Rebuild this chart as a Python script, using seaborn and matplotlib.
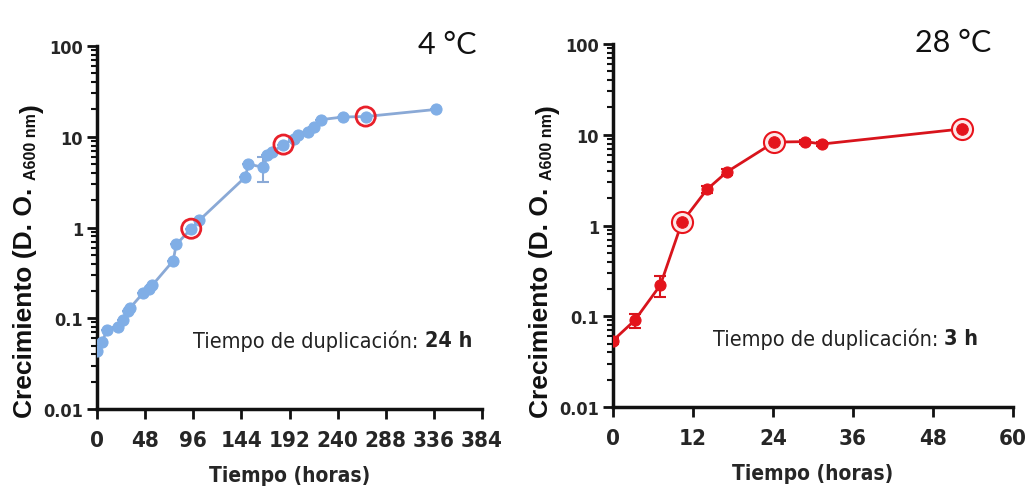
import numpy as np
import pandas as pd
import matplotlib
matplotlib.use("Agg")
import matplotlib.pyplot as plt
from matplotlib.ticker import LogLocator, NullFormatter, FixedLocator
import seaborn as sns

# Growth curve at 4 °C (hours, OD600)
t4 = [0, 5, 10, 21, 26, 31, 33, 46, 52, 55, 76, 79, 94, 102, 148, 151, 166, 170, 175, 186, 196, 200, 210, 216, 223, 245, 268, 338]
od4 = [0.044, 0.055, 0.074, 0.081, 0.095, 0.12, 0.13, 0.19, 0.21, 0.23, 0.43, 0.65, 0.97, 1.2, 3.6, 5.0, 4.6, 6.3, 6.8, 8.2, 9.5, 10.5, 11.4, 12.9, 15.4, 16.5, 16.7, 20.0]
err4 = [0, 0, 0, 0, 0, 0, 0, 0, 0, 0, 0, 0, 0, 0, 0, 0, 1.4, 0, 0, 0, 0, 0, 0, 0, 0, 0, 0, 0]
hl4_t = [94, 186, 268]
hl4_od = [0.97, 8.2, 16.7]

# Growth curve at 28 °C (hours, OD600)
t28 = [0, 3.25, 7.1, 10.35, 14.1, 17.1, 24.2, 28.85, 31.35, 52.35]
od28 = [0.054, 0.090, 0.22, 1.09, 2.5, 3.9, 8.3, 8.4, 7.9, 11.6]
err28 = [0.004, 0.016, 0.055, 0.08, 0.2, 0.3, 0.5, 0.4, 0.4, 0.6]
hl28_t = [10.35, 24.2, 52.35]
hl28_od = [1.09, 8.3, 11.6]

xticks4 = [0, 48, 96, 144, 192, 240, 288, 336, 384]
xticks28 = [0, 12, 24, 36, 48, 60]
yticks = [0.01, 0.1, 1, 10, 100]
ytick_labels = ["0.01", "0.1", "1", "10", "100"]

ylabel_main = "Crecimiento (D. O. "
ylabel_sub = "A600 nm"
ylabel_end = ")"

panels = [
    dict(t=t4, od=od4, err=err4, ht=hl4_t, hod=hl4_od, xt=xticks4,
         color="#80aee6", line="#8aa9d6", title="4 °C", title_x=0.985, dup="24 h",
         ring="#e8202a", ring_fill="none", ylab=(-0.156, -0.022)),
    dict(t=t28, od=od28, err=err28, ht=hl28_t, hod=hl28_od, xt=xticks28,
         color="#e4141c", line="#d8141c", title="28 °C", title_x=0.945, dup="3 h",
         ring="#e8141c", ring_fill="#fde8e8", ylab=(-0.15, -0.028)),
]

sns.set_style("white")
plt.rcParams["font.family"] = ["DejaVu Sans"]
plt.rcParams["font.stretch"] = "condensed"
cond = dict(family=["DejaVu Sans"], stretch="condensed")
wide = dict(family=["Liberation Sans", "DejaVu Sans"], stretch="normal",
            fontweight="bold", color="#111111", rotation=90)

fig = plt.figure(figsize=(10.31, 5.02), dpi=100)
axes_pos = [[97 / 1031, 1 - 410 / 502, 385 / 1031, 363 / 502],
            [613 / 1031, 1 - 408 / 502, 400 / 1031, 363 / 502]]

for pos, p in zip(axes_pos, panels):
    ax = fig.add_axes(pos)
    df = pd.DataFrame({"t": p["t"], "od": p["od"]})
    ax.errorbar(p["t"], p["od"], yerr=p["err"], fmt="none", ecolor=p["line"],
                elinewidth=1.5, capsize=4, capthick=1.5, zorder=2)
    sns.lineplot(data=df, x="t", y="od", ax=ax, color=p["line"], lw=2,
                 marker="o", markersize=8, markerfacecolor=p["color"],
                 markeredgecolor=p["color"], zorder=3)
    # highlighted sampling points
    hdf = pd.DataFrame({"t": p["ht"], "od": p["hod"]})
    if p["ring_fill"] != "none":
        sns.scatterplot(data=hdf, x="t", y="od", ax=ax, s=230, color=p["ring_fill"],
                        edgecolor=p["ring"], linewidth=1.5, zorder=3.5)
        sns.scatterplot(data=hdf, x="t", y="od", ax=ax, s=70, color=p["color"],
                        edgecolor=p["color"], zorder=4)
    else:
        sns.scatterplot(data=hdf, x="t", y="od", ax=ax, s=190, facecolor="none",
                        edgecolor=p["ring"], linewidth=2, zorder=4)

    ax.set_yscale("log")
    ax.set_ylim(0.01, 100)
    ax.set_xlim(0, p["xt"][-1])
    ax.xaxis.set_major_locator(FixedLocator(p["xt"]))
    ax.set_xticklabels([str(v) for v in p["xt"]], fontsize=16, fontweight="bold", **cond)
    ax.yaxis.set_major_locator(FixedLocator(yticks))
    ax.set_yticklabels(ytick_labels, fontsize=13, fontweight="bold", **cond)
    ax.yaxis.set_minor_locator(LogLocator(base=10, subs=np.arange(2, 10)))
    ax.yaxis.set_minor_formatter(NullFormatter())
    ax.tick_params(axis="both", which="major", direction="out", length=7, width=2,
                   color="#111111", pad=3, left=True, bottom=True)
    ax.tick_params(axis="x", which="major", pad=8)
    ax.tick_params(axis="y", which="minor", direction="out", length=4, width=1.5,
                   color="#111111", left=True)
    for side in ["top", "right"]:
        ax.spines[side].set_visible(False)
    for side in ["left", "bottom"]:
        ax.spines[side].set_linewidth(2.5)
        ax.spines[side].set_color("#111111")
    ax.set_xlabel("Tiempo (horas)", fontsize=15, fontweight="bold", labelpad=11, **cond)
    ax.set_ylabel("")

    # y label with a subscripted wavelength
    t_main = ax.text(p["ylab"][0], p["ylab"][1], ylabel_main, transform=ax.transAxes,
                     ha="right", va="bottom", fontsize=19, **wide)
    t_sub = ax.annotate(ylabel_sub, xy=(1, 1), xycoords=t_main, xytext=(1.5, 0),
                        textcoords="offset points", ha="right", va="bottom",
                        fontsize=11.5, **wide)
    ax.annotate(ylabel_end, xy=(0.5, 1), xycoords=t_sub, xytext=(0, 0),
                textcoords="offset points", ha="center", va="bottom", fontsize=19,
                **wide)

    ax.text(p["title_x"], 1.005, p["title"], transform=ax.transAxes, ha="right", va="center",
            fontsize=22, family=["Lato", "DejaVu Sans"], stretch="normal", color="#111111")
    ax.text(0.25, 0.19, "Tiempo de duplicación: ", transform=ax.transAxes,
            ha="left", va="center", fontsize=15.5, color="#222222", **cond)
    ax.annotate(p["dup"], xy=(1, 0.5), xycoords=ax.texts[-1], ha="left", va="center",
                fontsize=15.5, fontweight="bold", color="#222222", **cond)

fig.savefig("out.png", dpi=100, facecolor="white")
